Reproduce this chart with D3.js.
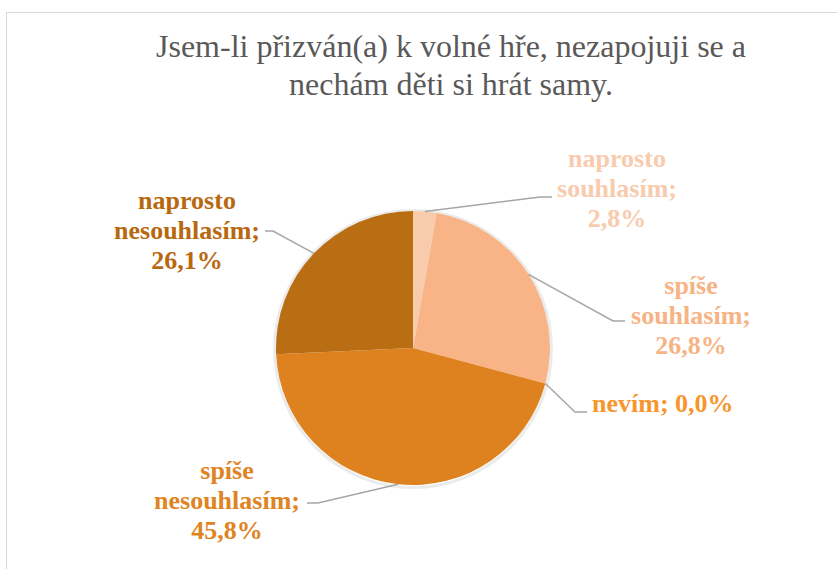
<!DOCTYPE html>
<html>
<head>
<meta charset="utf-8">
<script src="https://cdn.jsdelivr.net/npm/d3@7"></script>
</head>
<body style="margin:0">
<svg id="chart" width="837" height="569"></svg>
<script>
// ── data ───────────────────────────────────────────────
const categories = ['naprosto souhlasím', 'spíše souhlasím', 'nevím', 'spíše nesouhlasím', 'naprosto nesouhlasím'];
const values = [2.8, 26.8, 0.0, 45.8, 26.1];
const sliceColours = ['#F9CBAD', '#F8B487', '#F7962E', '#DE8220', '#BA6E14'];
const textColours = ['#F8CBAD', '#F7B384', '#F7962E', '#E0841F', '#B8690F'];
const titleLines = ['Jsem-li přizván(a) k volné hře, nezapojuji se a', 'nechám děti si hrát samy.'];

// label boxes (centre x / middle-line y) and leader elbows, placed by hand as in the original
const labelLayout = [
  { x: 617, y: 188, anchor: 'middle', elbow: 540, end: 552, ly: 197 },
  { x: 691, y: 315, anchor: 'middle', elbow: 613, end: 625, ly: 321 },
  { x: 592, y: 403, anchor: 'start',  elbow: 575, end: 587, ly: 412 },
  { x: 227, y: 500, anchor: 'middle', elbow: 318, end: 307, ly: 503 },
  { x: 187, y: 230, anchor: 'middle', elbow: 273, end: 265, ly: 231 }
];

const cx = 413, cy = 348, R = 137;
const fmt = v => v.toFixed(1).replace('.', ',') + '%';

const svg = d3.select('#chart');

// chart frame (runs past the right/bottom edge)
svg.append('rect')
  .attr('x', 6.5).attr('y', 12.5).attr('width', 900).attr('height', 600)
  .attr('fill', '#fff').attr('stroke', '#D9D9D9').attr('stroke-width', 1);

// title, one <text> per line
svg.selectAll('text.title').data(titleLines).enter().append('text')
  .attr('class', 'title')
  .attr('x', 451).attr('y', (d, i) => 57 + i * 38)
  .attr('text-anchor', 'middle')
  .style('font-family', d => `'Liberation Serif'`).attr('font-size', 32).attr('fill', '#595959')
  .text(d => d);

// pie
const data = categories.map((c, i) => ({ cat: c, value: values[i], i }));
const pie = d3.pie().sort(null).value(d => d.value);
const arcs = pie(data);
const arc = d3.arc().innerRadius(0).outerRadius(R);

// soft edge under the pie
svg.append('circle')
  .attr('cx', cx).attr('cy', cy + 1).attr('r', R + 1.5)
  .attr('fill', 'none').attr('stroke', '#000').attr('stroke-opacity', 0.08).attr('stroke-width', 3);

const g = svg.append('g').attr('transform', `translate(${cx},${cy})`);
g.selectAll('path').data(arcs).enter().append('path')
  .attr('d', arc)
  .attr('fill', d => sliceColours[d.data.i]);

// leader lines
const line = d3.line();
svg.append('g').selectAll('path').data(arcs).enter().append('path')
  .attr('d', d => {
    const a = (d.startAngle + d.endAngle) / 2;
    const L = labelLayout[d.data.i];
    const p0 = [cx + R * Math.sin(a), cy - R * Math.cos(a)];
    return line([p0, [L.elbow, L.ly], [L.end, L.ly]]);
  })
  .attr('fill', 'none').attr('stroke', '#A6A6A6').attr('stroke-width', 1.5);

// labels, one <text> per line
const labelLines = [];
data.forEach(d => {
  const L = labelLayout[d.i];
  const words = d.cat.split(' ');
  const lines = d.i === 2 ? [d.cat + '; ' + fmt(d.value)]
    : [words[0], words.slice(1).join(' ') + ';', fmt(d.value)];
  const n = lines.length;
  lines.forEach((s, k) => labelLines.push({
    s, i: d.i, x: L.x, anchor: L.anchor,
    y: L.y + (k - (n - 1) / 2) * 30 + 9
  }));
});

svg.selectAll('text.lbl').data(labelLines).enter().append('text')
  .attr('class', 'lbl')
  .attr('x', d => d.x).attr('y', d => d.y)
  .attr('text-anchor', d => d.anchor)
  .style('font-family', d => `'Liberation Serif'`).attr('font-weight', 'bold').attr('font-size', 26)
  .attr('fill', d => textColours[d.i])
  .text(d => d.s);
</script>
</body>
</html>
